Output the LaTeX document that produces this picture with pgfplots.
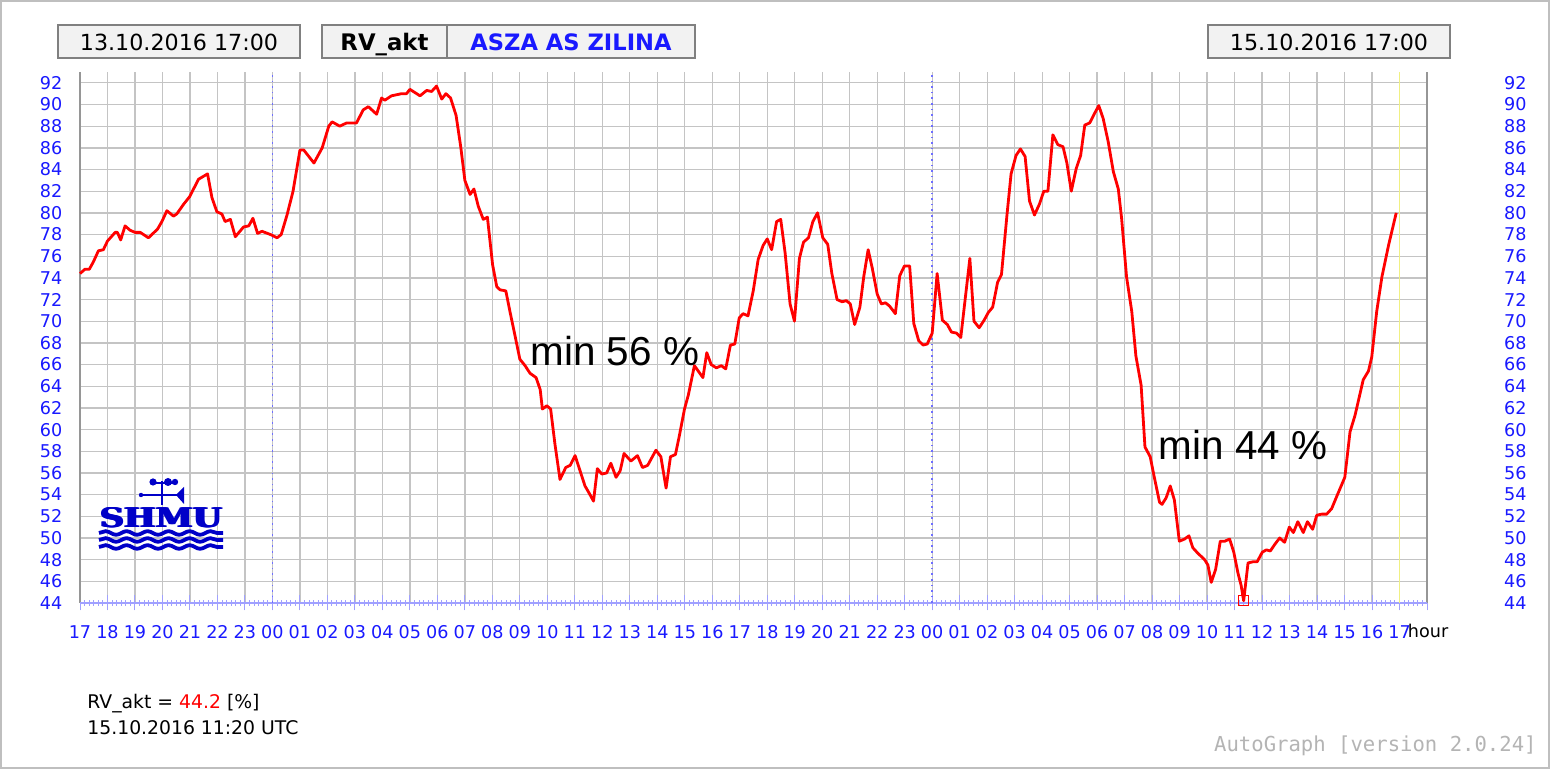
\documentclass[border=0pt]{standalone}
\usepackage{fontspec}
\setmainfont{DejaVu Sans}
\newfontfamily\arialfont{Liberation Sans}
\newfontfamily\agmono{DejaVu Sans Mono}
\newfontfamily\logoserif{DejaVu Serif}
\usepackage{graphicx}
\usepackage{pgfplots}
\usepackage{pgfplotstable}
\pgfplotsset{compat=1.18}
\usetikzlibrary{decorations.pathmorphing}
\definecolor{tickblue}{RGB}{25,25,255}
\definecolor{logoblue}{RGB}{0,0,200}
\definecolor{gridgray}{RGB}{196,196,196}
\definecolor{framegray}{RGB}{150,150,150}
\definecolor{boxfill}{RGB}{242,242,242}
\definecolor{boxdraw}{RGB}{128,128,128}
\definecolor{vlight}{RGB}{160,160,255}
\definecolor{mnblue}{RGB}{110,110,255}
\definecolor{yel}{RGB}{240,240,130}
\definecolor{agray}{RGB}{180,180,180}

\pgfplotstableread{
x y
0 74.4
0.18 74.8
0.34 74.8
0.49 75.5
0.67 76.5
0.85 76.6
1.0 77.4
1.28 78.2
1.36 78.2
1.48 77.5
1.64 78.8
1.82 78.4
2.0 78.2
2.19 78.2
2.49 77.7
2.82 78.5
2.98 79.2
3.16 80.2
3.4 79.7
3.52 79.9
3.77 80.8
3.99 81.5
4.19 82.5
4.31 83.1
4.64 83.6
4.8 81.4
4.98 80.1
5.16 79.9
5.28 79.2
5.47 79.4
5.65 77.8
5.95 78.7
6.14 78.8
6.29 79.5
6.46 78.1
6.62 78.3
6.93 78.0
7.17 77.7
7.32 78.0
7.53 79.8
7.75 82.0
8.0 85.8
8.14 85.8
8.51 84.6
8.81 86.0
9.05 88.0
9.17 88.4
9.45 88.0
9.7 88.3
10.06 88.3
10.3 89.5
10.49 89.8
10.79 89.1
10.97 90.6
11.09 90.4
11.33 90.8
11.7 91.0
11.88 91.0
12.0 91.4
12.37 90.8
12.61 91.3
12.79 91.2
12.97 91.7
13.16 90.5
13.31 91.0
13.48 90.6
13.68 89.0
13.85 86.1
14.0 83.0
14.19 81.7
14.33 82.2
14.49 80.6
14.67 79.4
14.82 79.6
15.01 75.2
15.16 73.2
15.28 72.9
15.49 72.8
15.64 70.9
15.83 68.6
16.0 66.5
16.19 65.9
16.37 65.2
16.59 64.8
16.74 63.7
16.82 61.9
16.98 62.2
17.12 61.9
17.28 58.6
17.46 55.4
17.67 56.5
17.83 56.7
18.01 57.6
18.19 56.2
18.37 54.8
18.53 54.1
18.68 53.4
18.82 56.4
18.98 55.9
19.16 56.0
19.31 56.9
19.5 55.6
19.65 56.2
19.79 57.8
20.04 57.1
20.28 57.6
20.46 56.5
20.65 56.7
20.95 58.1
21.13 57.5
21.32 54.6
21.48 57.5
21.66 57.7
21.8 59.4
21.99 61.9
22.13 63.2
22.35 65.9
22.66 64.8
22.8 67.1
22.96 66.0
23.15 65.7
23.33 65.9
23.49 65.6
23.66 67.8
23.82 67.9
23.98 70.3
24.12 70.7
24.3 70.5
24.49 72.8
24.67 75.7
24.85 77.0
25.0 77.6
25.16 76.6
25.34 79.2
25.49 79.4
25.65 76.3
25.83 71.6
25.99 70.0
26.17 75.8
26.32 77.3
26.5 77.7
26.66 79.2
26.83 80.0
27.02 77.7
27.2 77.1
27.35 74.4
27.54 72.0
27.72 71.8
27.88 71.9
28.02 71.6
28.18 69.7
28.37 71.3
28.51 74.1
28.67 76.6
28.82 74.9
29.0 72.5
29.15 71.6
29.3 71.7
29.45 71.4
29.66 70.7
29.82 74.2
29.99 75.1
30.18 75.1
30.33 69.8
30.51 68.2
30.67 67.8
30.82 67.9
31.0 68.9
31.18 74.4
31.37 70.1
31.55 69.7
31.7 69.0
31.89 68.9
32.04 68.5
32.18 71.6
32.37 75.8
32.52 70.0
32.71 69.4
32.89 70.1
33.04 70.8
33.2 71.3
33.38 73.6
33.52 74.3
33.72 79.8
33.87 83.6
34.05 85.3
34.21 85.9
34.38 85.2
34.54 81.1
34.72 79.8
34.9 80.8
35.06 82.0
35.21 82.0
35.39 87.2
35.57 86.3
35.76 86.1
35.9 84.6
36.06 82.0
36.24 84.1
36.4 85.3
36.55 88.1
36.73 88.3
36.89 89.1
37.06 89.9
37.22 88.7
37.4 86.6
37.59 83.8
37.77 82.2
37.89 79.5
38.07 74.1
38.26 70.9
38.41 66.8
38.6 64.1
38.74 58.4
38.93 57.5
39.08 55.6
39.27 53.3
39.36 53.1
39.51 53.7
39.66 54.8
39.81 53.5
39.99 49.7
40.18 49.9
40.34 50.2
40.48 49.1
40.66 48.6
40.91 48.0
41.03 47.5
41.15 45.9
41.31 47.1
41.48 49.7
41.64 49.7
41.82 49.9
41.97 48.7
42.12 46.8
42.24 45.6
42.33 44.2
42.49 47.7
42.67 47.8
42.82 47.8
43.01 48.7
43.16 48.9
43.3 48.8
43.46 49.4
43.64 50.0
43.82 49.6
43.99 51.0
44.14 50.5
44.3 51.5
44.5 50.5
44.65 51.5
44.84 50.8
44.99 52.1
45.17 52.2
45.35 52.2
45.53 52.7
45.71 53.8
46.01 55.6
46.2 59.8
46.38 61.3
46.68 64.6
46.87 65.4
46.99 66.7
47.17 70.9
47.36 74.1
47.6 77.0
47.88 80.0
}\rvdata

\begin{document}
\begin{tikzpicture}
\path[use as bounding box] (0pt,0pt) rectangle (775pt,384.5pt);
\fill[white] (0pt,0pt) rectangle (775pt,384.5pt);

\begin{axis}[
  at={(40pt,83pt)}, anchor=south west,
  scale only axis, width=673.5pt, height=265.5pt,
  xmin=0, xmax=49, ymin=44, ymax=93,
  clip=false,
  axis line style={draw=none},
  xtick={0,...,49},
  xticklabels={17,18,19,20,21,22,23,00,01,02,03,04,05,06,07,08,09,10,11,12,13,14,15,16,17,18,19,20,21,22,23,00,01,02,03,04,05,06,07,08,09,10,11,12,13,14,15,16,17,{}},
  minor x tick num=5,
  ytick={44,46,...,92},
  grid=major,
  major grid style={gridgray, line width=0.65pt},
  tick pos=left,
  tick align=center,
  major tick length=7.5pt,
  minor tick length=3pt,
  xtick style={vlight, line width=0.5pt},
  ytick style={draw=none},
  tick label style={font=\fontsize{8.8}{10}\selectfont, text=tickblue},
  xticklabel style={anchor=base, yshift=-14pt},
  yticklabel style={anchor=east, xshift=-1.6pt},
  /pgf/number format/assume math mode=true,
]
\draw[framegray, line width=0.75pt] (rel axis cs:0,0) -- (rel axis cs:0,1);
\draw[framegray, line width=0.75pt] (rel axis cs:1,0) -- (rel axis cs:1,1);
\draw[vlight, line width=0.6pt] (rel axis cs:0,0) -- (rel axis cs:1,0);
\draw[mnblue, dotted, line width=0.8pt] (axis cs:7,44) -- (axis cs:7,93);
\draw[mnblue, dotted, line width=0.8pt] (axis cs:31,44) -- (axis cs:31,93);
\draw[yel, line width=0.8pt] (axis cs:48,44) -- (axis cs:48,93);
\addplot[red, line width=1.4pt, line join=round] table[x=x,y=y]{\rvdata};
\addplot[red, only marks, mark=square, mark size=2.5pt, mark options={line width=0.6pt}] coordinates {(42.33,44.2)};
\node[anchor=base west, inner sep=0pt, font=\arialfont\fontsize{20.2}{22}\selectfont] at (axis cs:16.38,65.9) {min 56 \%};
\node[anchor=base west, inner sep=0pt, font=\arialfont\fontsize{20.2}{22}\selectfont] at (axis cs:39.23,57.25) {min 44 \%};
\node[anchor=base west, inner sep=0pt, font=\fontsize{8.8}{10}\selectfont] at (axis cs:48,44) [xshift=4pt, yshift=-17.5pt] {hour};
\end{axis}

\begin{axis}[
  at={(40pt,83pt)}, anchor=south west,
  scale only axis, width=673.5pt, height=265.5pt,
  xmin=0, xmax=49, ymin=44, ymax=93,
  hide x axis,
  axis y line*=right,
  axis line style={draw=none},
  ytick={44,46,...,92},
  major tick length=0pt,
  ytick style={draw=none},
  tick label style={font=\fontsize{8.8}{10}\selectfont, text=tickblue},
  yticklabel style={anchor=west, xshift=35pt},
  /pgf/number format/assume math mode=true,
]
\addplot[draw=none] coordinates {(0,44)};
\end{axis}

% SHMU logo, pixel coordinates
\begin{scope}[x=0.5pt, y=-0.5pt, shift={(0pt,384.5pt)}]
  \foreach \dx in {-0.6,0,0.6} {
    \node[inner sep=0pt, text=logoblue, xshift=\dx pt] at (161,518) {\resizebox{61pt}{10pt}{\logoserif\bfseries SHMU}};
  }
  \foreach \yy in {533,540,547} {
    \draw[logoblue, line width=1.9pt, decorate, decoration={snake, amplitude=0.9pt, segment length=10.5pt}] (99,\yy) -- (223,\yy);
  }
  \draw[logoblue, line width=1.2pt] (162,481) -- (162,505);
  \draw[logoblue, line width=1.2pt] (140,495) -- (178,495);
  \draw[logoblue, line width=1.2pt] (152,483) -- (175,483);
  \fill[logoblue] (153,482) circle (3.6);
  \fill[logoblue] (168,482) circle (4);
  \fill[logoblue] (175,482) circle (3.2);
  \fill[logoblue] (176,495) -- (184,487) -- (184,504) -- cycle;
  \fill[logoblue] (141,495) circle (2.2);
\end{scope}

% header boxes
\draw[boxdraw, fill=boxfill, line width=0.75pt] (29pt,355.5pt) rectangle (150pt,372pt);
\node[anchor=base, inner sep=0pt, font=\fontsize{11.1}{13}\selectfont] at (89.5pt,359pt) {13.10.2016 17:00};
\draw[boxdraw, fill=boxfill, line width=0.75pt] (161pt,355.5pt) rectangle (347.5pt,372pt);
\draw[boxdraw, line width=0.75pt] (223.5pt,355.5pt) -- (223.5pt,372pt);
\node[anchor=base, inner sep=0pt, font=\bfseries\fontsize{11.4}{13}\selectfont] at (192.25pt,359pt) {RV\_akt};
\node[anchor=base, inner sep=0pt, text=tickblue, font=\bfseries\fontsize{11.3}{13}\selectfont] at (285.5pt,359pt) {ASZA AS ZILINA};
\draw[boxdraw, fill=boxfill, line width=0.75pt] (604pt,355.5pt) rectangle (725pt,372pt);
\node[anchor=base, inner sep=0pt, font=\fontsize{11.1}{13}\selectfont] at (664.5pt,359pt) {15.10.2016 17:00};

% footer texts
\node[anchor=base west, inner sep=0pt, font=\fontsize{9.4}{11}\selectfont] at (43.5pt,30pt) {RV\_akt = \textcolor{red}{44.2} [\%]};
\node[anchor=base west, inner sep=0pt, font=\fontsize{9.4}{11}\selectfont] at (43.5pt,17pt) {15.10.2016 11:20 UTC};
\node[anchor=base east, inner sep=0pt, text=agray, font=\agmono\fontsize{10.3}{12}\selectfont] at (768.5pt,8.5pt) {AutoGraph [version 2.0.24]};

% border
\draw[gray!50, line width=1pt] (0.5pt,0.5pt) rectangle (774.5pt,384pt);
\end{tikzpicture}
\end{document}
